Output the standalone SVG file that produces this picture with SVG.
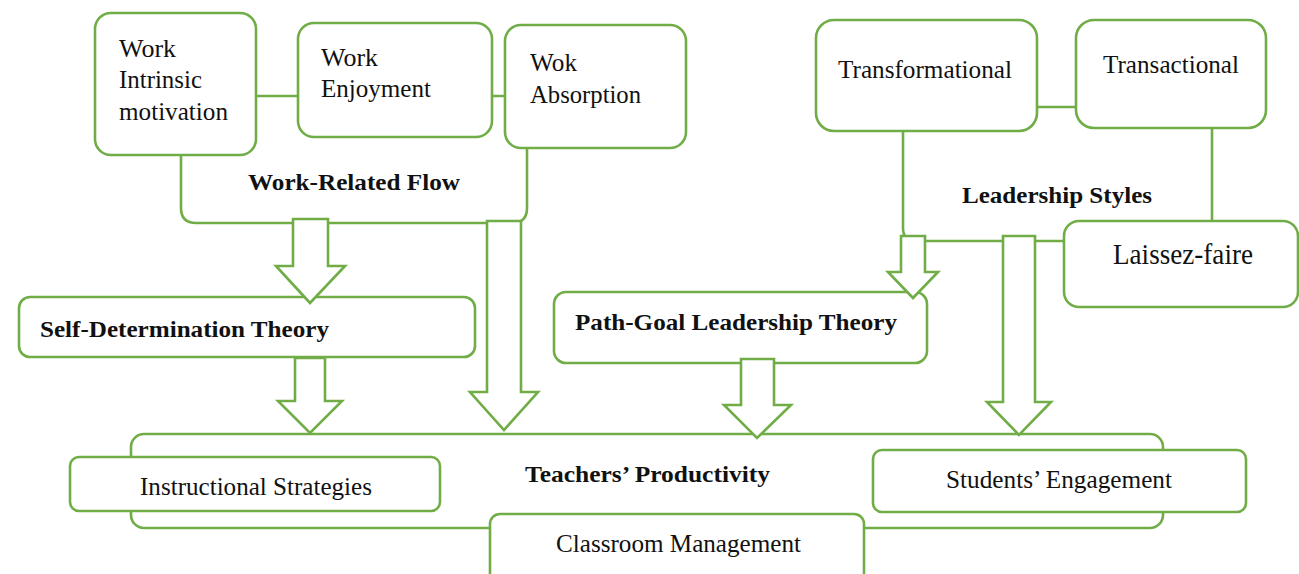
<svg xmlns="http://www.w3.org/2000/svg" width="1299" height="574" viewBox="0 0 1299 574">
<style>
.b{fill:#fff;stroke:#70AD47;stroke-width:2.6}
.l{fill:none;stroke:#70AD47;stroke-width:2.6}
.a{fill:#fff;stroke:#70AD47;stroke-width:2.6;stroke-linejoin:miter}
text{font-family:"Liberation Serif","Times New Roman",serif;font-size:25px;fill:#111}
.bd{font-weight:bold;font-size:24px}
</style>
<rect width="1299" height="574" fill="#fff"/>
<g id="connectors">
<path class="l" d="M256 96H298M492 96H505M1037 107H1076M1212 128V221"/>
<path class="l" d="M181 155V208Q181 223 196 223H512Q527 223 527 208V148"/>
<path class="l" d="M903 131V228Q903 241 916 241H1064"/>
</g>
<g id="teachers-productivity"><rect class="b" x="131" y="434" width="1032" height="94" rx="13"/><text class="bd" x="525" y="482" textLength="245" lengthAdjust="spacingAndGlyphs">Teachers’ Productivity</text></g>
<g id="work-intrinsic"><rect class="b" x="95" y="13" width="161" height="142" rx="16"/><text x="119" y="57" textLength="57" lengthAdjust="spacingAndGlyphs">Work</text><text x="119" y="88" textLength="83" lengthAdjust="spacingAndGlyphs">Intrinsic</text><text x="119" y="120" textLength="109" lengthAdjust="spacingAndGlyphs">motivation</text></g>
<g id="work-enjoyment"><rect class="b" x="298" y="23" width="194" height="114" rx="16"/><text x="321" y="66" textLength="57" lengthAdjust="spacingAndGlyphs">Work</text><text x="321" y="97" textLength="110" lengthAdjust="spacingAndGlyphs">Enjoyment</text></g>
<g id="wok-absorption"><rect class="b" x="505" y="25" width="181" height="123" rx="16"/><text x="530" y="71" textLength="47" lengthAdjust="spacingAndGlyphs">Wok</text><text x="530" y="103" textLength="111" lengthAdjust="spacingAndGlyphs">Absorption</text></g>
<g id="work-related-flow"><text class="bd" x="248" y="190" textLength="212" lengthAdjust="spacingAndGlyphs">Work-Related Flow</text></g>
<g id="transformational"><rect class="b" x="816" y="20" width="221" height="111" rx="18"/><text x="838" y="78" textLength="174" lengthAdjust="spacingAndGlyphs">Transformational</text></g>
<g id="transactional"><rect class="b" x="1076" y="20" width="190" height="108" rx="18"/><text x="1103" y="73" textLength="136" lengthAdjust="spacingAndGlyphs">Transactional</text></g>
<g id="leadership-styles"><text class="bd" x="962" y="203" textLength="190" lengthAdjust="spacingAndGlyphs">Leadership Styles</text></g>
<g id="laissez-faire"><rect class="b" x="1064" y="221" width="234" height="86" rx="15"/><text x="1113" y="264" style="font-size:29px" textLength="140" lengthAdjust="spacingAndGlyphs">Laissez-faire</text></g>
<g id="self-determination"><rect class="b" x="19" y="297" width="456" height="60" rx="11"/><text class="bd" x="40" y="337" textLength="289" lengthAdjust="spacingAndGlyphs">Self-Determination Theory</text></g>
<g id="path-goal"><rect class="b" x="554" y="292" width="373" height="71" rx="12"/><text class="bd" x="575" y="330" textLength="322" lengthAdjust="spacingAndGlyphs">Path-Goal Leadership Theory</text></g>
<g id="instructional"><rect class="b" x="70" y="457" width="370" height="54" rx="9"/><text x="140" y="495" textLength="232" lengthAdjust="spacingAndGlyphs">Instructional Strategies</text></g>
<g id="students"><rect class="b" x="873" y="450" width="373" height="62" rx="9"/><text x="946" y="488" textLength="226" lengthAdjust="spacingAndGlyphs">Students’ Engagement</text></g>
<g id="classroom"><rect class="b" x="490" y="514" width="374" height="70" rx="10"/><text x="556" y="552" textLength="245" lengthAdjust="spacingAndGlyphs">Classroom Management</text></g>
<g id="arrows">
<polygon class="a" points="293,219 328,219 328,266 345,266 310,303 276,266 293,266"/>
<polygon class="a" points="487,221 521,221 521,392 538,392 504,430 470,392 487,392"/>
<polygon class="a" points="295,358 325,358 325,401 342,401 310,433 278,401 295,401"/>
<polygon class="a" points="901,236 925,236 925,272 938,272 913,298 888,272 901,272"/>
<polygon class="a" points="741,359 774,359 774,405 791,405 757,438 724,405 741,405"/>
<polygon class="a" points="1003,236 1035,236 1035,402 1051,402 1019,435 987,402 1003,402"/>
</g>
</svg>
